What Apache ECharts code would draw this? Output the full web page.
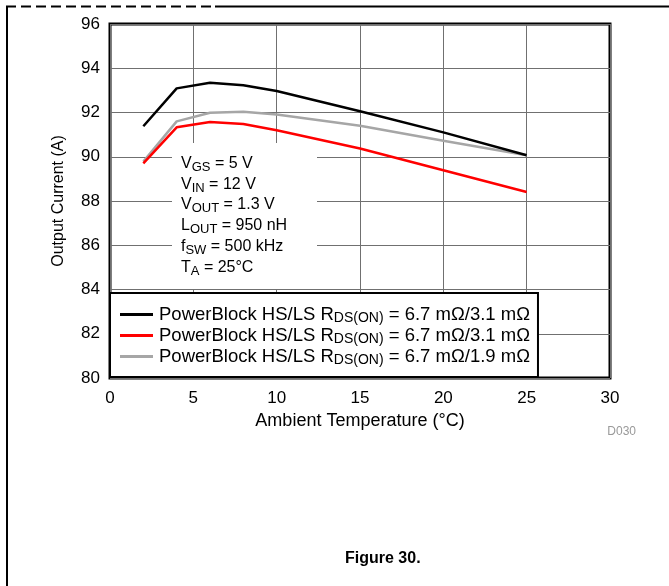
<!DOCTYPE html>
<html>
<head>
<meta charset="utf-8">
<script src="https://cdn.jsdelivr.net/npm/echarts@6/dist/echarts.min.js"></script>
<style>html,body{margin:0;padding:0;background:#fff}#c{width:669px;height:586px}</style>
</head>
<body>
<div id="c"></div>
<script>
// Data
var temps = [2, 4, 6, 8, 10, 15, 20, 25];
var seriesBlack = [91.38, 93.09, 93.34, 93.23, 92.97, 92.06, 91.10, 90.07];
var seriesRed   = [89.70, 91.33, 91.57, 91.48, 91.20, 90.37, 89.39, 88.41];
var seriesGray  = [89.78, 91.60, 91.99, 92.03, 91.91, 91.40, 90.72, 90.07];
var legendLabels = [
  'PowerBlock HS/LS R{sub|DS(ON)} = 6.7 mΩ/3.1 mΩ',
  'PowerBlock HS/LS R{sub|DS(ON)} = 6.7 mΩ/3.1 mΩ',
  'PowerBlock HS/LS R{sub|DS(ON)} = 6.7 mΩ/1.9 mΩ'
];
var seriesKeys = ['s1', 's2', 's3'];
var xTicks = [0, 5, 10, 15, 20, 25, 30];
var yTicks = [80, 82, 84, 86, 88, 90, 92, 94, 96];
var conditions = [
  'V{sub|GS} = 5 V',
  'V{sub|IN} = 12 V',
  'V{sub|OUT} = 1.3 V',
  'L{sub|OUT} = 950 nH',
  'f{sub|SW} = 500 kHz',
  'T{sub|A} = 25°C'
];

function pairs(xs, ys) { return xs.map(function (x, i) { return [x, ys[i]]; }); }

var FONT = 'Liberation Sans, Arial, sans-serif';
var chart = echarts.init(document.getElementById('c'), null, {renderer: 'canvas'});
var colors = ['#000000', '#ff0000', '#a6a6a6'];
var datas = [seriesBlack, seriesRed, seriesGray];

chart.setOption({
  animation: false,
  backgroundColor: '#ffffff',
  textStyle: {fontFamily: FONT},
  grid: {left: 110, right: 59, top: 24, bottom: 208, show: true, borderColor: '#000', borderWidth: 3, backgroundColor: 'transparent'},
  xAxis: {
    type: 'value', min: xTicks[0], max: xTicks[xTicks.length - 1], interval: 5,
    name: 'Ambient Temperature (°C)', nameLocation: 'middle', nameGap: 33,
    nameTextStyle: {fontSize: 18, color: '#000', fontFamily: FONT},
    axisLine: {show: false}, axisTick: {show: false},
    axisLabel: {fontSize: 17, color: '#000', margin: 12, fontFamily: FONT},
    splitLine: {show: true, lineStyle: {color: '#707070', width: 1}}
  },
  yAxis: {
    type: 'value', min: yTicks[0], max: yTicks[yTicks.length - 1], interval: 2,
    name: 'Output Current (A)', nameLocation: 'middle', nameGap: 43,
    nameTextStyle: {fontSize: 16, color: '#000', fontFamily: FONT},
    axisLine: {show: false}, axisTick: {show: false},
    axisLabel: {fontSize: 17, color: '#000', margin: 10, fontFamily: FONT},
    splitLine: {show: true, lineStyle: {color: '#707070', width: 1}}
  },
  legend: {
    orient: 'vertical', left: 110, top: 293,
    data: seriesKeys,
    icon: 'rect',
    backgroundColor: '#fff', borderColor: '#000', borderWidth: 2,
    padding: [11, 8, 10, 10], itemGap: 0, itemWidth: 33, itemHeight: 3,
    formatter: function (name) { return legendLabels[seriesKeys.indexOf(name)]; },
    textStyle: {fontSize: 18.5, color: '#000', fontFamily: FONT, lineHeight: 21, padding: [0, 0, 0, 1],
      rich: {sub: {fontSize: 14, verticalAlign: 'bottom', lineHeight: 12, fontFamily: FONT, color: '#000'}}}
  },
  graphic: [
    {type: 'line', shape: {x1: 6, y1: 6.5, x2: 215, y2: 6.5}, style: {stroke: '#000', lineWidth: 2, lineDash: [10, 5]}, z: 100},
    {type: 'line', shape: {x1: 215, y1: 6.5, x2: 669, y2: 6.5}, style: {stroke: '#000', lineWidth: 2}, z: 100},
    {type: 'line', shape: {x1: 7, y1: 6, x2: 7, y2: 586}, style: {stroke: '#000', lineWidth: 2}, z: 100},
    {type: 'rect', shape: {x: 172, y: 143, width: 145, height: 146}, style: {fill: '#fff'}, z: 50},
    {type: 'text', left: 181, top: 153, z: 51,
      style: {text: conditions.join('\n'), fontSize: 16, fontFamily: FONT, fill: '#000', lineHeight: 20.8,
        rich: {sub: {fontSize: 13, verticalAlign: 'bottom', lineHeight: 12, fontFamily: FONT, fill: '#000'}}}},
    {type: 'text', right: 33, top: 426, style: {text: 'D030', fontSize: 12, fill: '#999', fontFamily: FONT}},
    {type: 'text', left: 345, top: 551, style: {text: 'Figure 30.', fontSize: 16, fontWeight: 'bold', fill: '#000', fontFamily: FONT}}
  ],
  series: seriesKeys.map(function (k, i) {
    return {
      name: k, type: 'line', data: pairs(temps, datas[i]),
      symbol: 'none', z: 10 - i,
      lineStyle: {color: colors[i], width: 2.5},
      itemStyle: {color: colors[i]}
    };
  })
});
</script>
</body>
</html>
